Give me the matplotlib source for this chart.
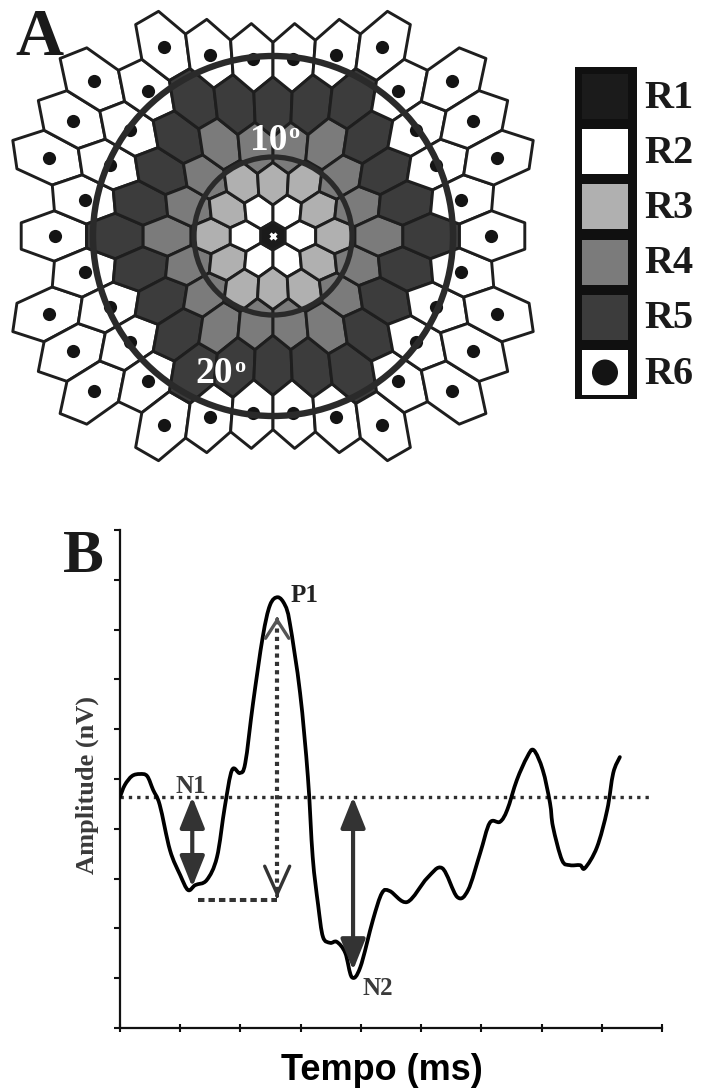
import numpy as np
import matplotlib
matplotlib.use("Agg")
import matplotlib.pyplot as plt
from matplotlib.collections import PolyCollection
from matplotlib.patches import Circle, Rectangle, FancyArrowPatch, PathPatch
from matplotlib.path import Path

# ---------------- data ----------------
ring_labels = ["R1", "R2", "R3", "R4", "R5", "R6"]
ring_colors = ["#1b1b1b", "#ffffff", "#b0b0b0", "#7b7b7b", "#3c3c3c", "#ffffff"]
ring_has_dot = [False, False, False, False, False, True]
circle_labels = ["10", "20"]
circle_radius = [79, 180]          # eccentricity circles (px of panel A)

time_x = [0.00, 0.08, 0.20, 0.33, 0.45, 0.55, 0.66, 0.83, 1.00, 1.13, 1.25, 1.44,
          1.61, 1.74, 1.86, 1.99, 2.08, 2.21, 2.37, 2.49, 2.62, 2.74, 2.82, 2.99,
          3.12, 3.20, 3.29, 3.37, 3.49, 3.60, 3.74, 3.85, 3.99, 4.20, 4.35, 4.48,
          4.77, 5.10, 5.35, 5.60, 5.78, 5.98, 6.14, 6.31, 6.43, 6.59, 6.76, 6.87,
          7.02, 7.14, 7.19, 7.34, 7.47, 7.64, 7.72, 7.92, 8.09, 8.19, 8.30]
amp_y = [4.64, 4.88, 5.06, 5.10, 5.06, 4.78, 4.48, 3.57, 3.07, 2.77, 2.87, 2.97,
         3.43, 4.44, 5.18, 5.12, 5.32, 6.53, 7.85, 8.49, 8.65, 8.49, 8.13, 6.73,
         5.04, 3.43, 2.47, 1.83, 1.71, 1.73, 1.51, 1.02, 1.22, 2.17, 2.71, 2.75,
         2.53, 3.01, 3.21, 2.63, 2.77, 3.51, 4.12, 4.14, 4.38, 4.98, 5.44, 5.58,
         5.18, 4.52, 4.04, 3.37, 3.27, 3.27, 3.21, 3.63, 4.38, 5.12, 5.44]
baseline_amp = 4.64
baseline_end = 8.85
n1_time, n1_amp = 1.20, 2.83
p1_time, p1_amp_tip, p1_amp_bottom = 2.61, 8.25, 2.61
n2_time, n2_amp = 3.87, 1.16
implicit_start, implicit_amp = 1.30, 2.57
peak_labels = ["N1", "P1", "N2"]
peak_label_pos = [(1.18, 4.84), (3.06, 8.69), (4.28, 0.80)]
peak_label_colors = ["#3a3a3a", "#222222", "#3a3a3a"]

SERIF = ["Liberation Serif", "DejaVu Serif"]
SANS = ["Liberation Sans", "DejaVu Sans"]

W, H = 712, 1090
fig = plt.figure(figsize=(W / 100, H / 100), dpi=100)
fig.patch.set_facecolor("white")

# ---------------- panel A ----------------
axA = fig.add_axes([0, 1 - 480 / H, 1, 480 / H])
axA.set_xlim(-273, W - 273)
axA.set_ylim(236 - 480, 236)
axA.axis("off")

s3 = np.sqrt(3.0)
ang = np.deg2rad(90 + 60 * np.arange(6))
unit_hex = np.column_stack([np.cos(ang), np.sin(ang)])


def warp(p):
    r = np.hypot(p[..., 0], p[..., 1])
    return p * (12.6 + 1.45 * r)[..., None]


polys, faces, dots = [], [], []
for q in range(-6, 7):
    for r in range(-6, 7):
        d = max(abs(q), abs(r), abs(q + r))
        c = np.array([s3 * (q + r / 2.0), -1.5 * r])
        dist = np.hypot(*c)
        if d <= 5:
            ring = d
        elif d == 6 and dist < 9.2 and abs(c[1]) < 8.9:
            ring = 5
        else:
            continue
        polys.append(warp(c + unit_hex))
        faces.append(ring_colors[ring])
        if ring_has_dot[ring]:
            dots.append(warp(c))

axA.add_collection(PolyCollection(polys, facecolors=faces, edgecolors="#1e1e1e",
                                  linewidths=2.1, zorder=1))
dots = np.array(dots)
axA.scatter(dots[:, 0], dots[:, 1], s=90, color="#141414", zorder=2, linewidths=0)
axA.plot([0], [0], marker="x", ms=5, mew=2.2, color="white", zorder=3)

for rad, lw in zip(circle_radius, [3.8, 4.6]):
    axA.add_patch(Circle((0, 0), rad, fill=False, lw=lw, ec="#2a2a2a", zorder=4))

# degree labels
axA.text(14, 86, circle_labels[0], ha="right", va="baseline", color="white",
         fontsize=27, fontweight="bold", family=SERIF, zorder=5)
axA.text(15, 113, "o", ha="left", va="top", color="white",
         fontsize=16, fontweight="bold", family=SERIF, zorder=5)
axA.text(-40, -147, circle_labels[1], ha="right", va="baseline", color="white",
         fontsize=27, fontweight="bold", family=SERIF, zorder=5)
axA.text(-39, -121, "o", ha="left", va="top", color="white",
         fontsize=16, fontweight="bold", family=SERIF, zorder=5)

# legend column
axA.add_patch(Rectangle((575 - 273, 236 - 399), 62, 332, fc="#101010", ec="none", zorder=1))
for i, (lab, col) in enumerate(zip(ring_labels, ring_colors)):
    top = 74 + 55.2 * i
    axA.add_patch(Rectangle((582 - 273, 236 - (top + 45)), 46, 45, fc=col, ec="none", zorder=2))
    if ring_has_dot[i]:
        axA.add_patch(Circle((605 - 273, 236 - (top + 22.5)), 13, fc="#141414", ec="none", zorder=3))
    axA.text(644 - 273, 236 - (top + 24), lab, ha="left", va="center", fontsize=29,
             fontweight="bold", family=SERIF, color="#1a1a1a")

fig.text(15 / W, 1 - 55 / H, "A", ha="left", va="baseline", fontsize=48,
         fontweight="bold", family=SERIF, color="#1a1a1a")

# ---------------- panel B ----------------
axB = fig.add_axes([120 / W, 62 / H, 542 / W, 498 / H])
axB.set_xlim(0, 9)
axB.set_ylim(0, 10)
for sp in ["top", "right"]:
    axB.spines[sp].set_visible(False)
for sp in ["left", "bottom"]:
    axB.spines[sp].set_linewidth(1.6)
    axB.spines[sp].set_color("#111111")
axB.set_xticks(np.arange(0, 10))
axB.set_yticks(np.arange(0, 11))
axB.tick_params(axis="x", direction="inout", length=6, width=1.5, color="#111111",
                labelbottom=False)
axB.tick_params(axis="y", direction="out", length=4, width=1.5, color="#111111",
                labelleft=False)

# baseline (dotted)
axB.plot([0, baseline_end], [baseline_amp, baseline_amp], ls=(0, (1, 1.5)), lw=2.4,
         color="#2e2e2e", zorder=2)

# waveform drawn as a smooth Bezier path through the read points
P = np.column_stack([time_x, amp_y])
verts = [P[0]]
codes = [Path.MOVETO]
for i in range(len(P) - 1):
    p0 = P[i - 1] if i > 0 else P[i]
    p1, p2 = P[i], P[i + 1]
    p3 = P[i + 2] if i + 2 < len(P) else P[i + 1]
    verts += [p1 + (p2 - p0) / 6.0, p2 - (p3 - p1) / 6.0, p2]
    codes += [Path.CURVE4] * 3
axB.add_patch(PathPatch(Path(verts, codes), fill=False, ec="black", lw=2.7,
                        joinstyle="round", capstyle="round", zorder=3))

# N1 and N2 amplitude arrows
for t, a in [(n1_time, n1_amp), (n2_time, n2_amp)]:
    axB.add_patch(FancyArrowPatch((t, baseline_amp), (t, a),
                                  arrowstyle="<|-|>,head_length=0.95,head_width=0.38",
                                  mutation_scale=20, lw=3, color="#333333",
                                  shrinkA=0, shrinkB=0, zorder=4))

# P1 amplitude (dotted) arrow
axB.plot([p1_time, p1_time], [p1_amp_bottom + 0.15, p1_amp_tip - 0.1],
         ls=(0, (1, 1)), lw=3.0, color="#333333", zorder=4)
axB.add_patch(FancyArrowPatch((p1_time, p1_amp_tip - 0.05), (p1_time, p1_amp_tip),
                              arrowstyle="->,head_length=0.65,head_width=0.42",
                              mutation_scale=20, lw=2.4, color="#555555",
                              shrinkA=0, shrinkB=0, zorder=5))
axB.add_patch(FancyArrowPatch((p1_time, p1_amp_bottom + 0.05), (p1_time, p1_amp_bottom),
                              arrowstyle="->,head_length=1.0,head_width=0.45",
                              mutation_scale=20, lw=2.4, color="#333333",
                              shrinkA=0, shrinkB=0, zorder=5))
# implicit time horizontal dashed line
axB.plot([implicit_start, p1_time], [implicit_amp, implicit_amp], ls=(0, (1.6, 1.0)),
         lw=2.9, color="#333333", zorder=4)

for lab, (x, y), col in zip(peak_labels, peak_label_pos, peak_label_colors):
    axB.text(x, y, lab, ha="center", va="center", fontsize=18, fontweight="bold",
             family=SERIF, color=col, zorder=6)

fig.text(87 / W, 1 - 785 / H, "Amplitude (nV)", rotation=90, ha="center", va="center",
         fontsize=19, fontweight="bold", family=SERIF, color="#3a3a3a")
fig.text(382 / W, 1 - 1070 / H, "Tempo (ms)", ha="center", va="center",
         fontsize=26, fontweight="bold", family=SANS, color="black")
fig.text(63 / W, 1 - 572 / H, "B", ha="left", va="baseline", fontsize=44,
         fontweight="bold", family=SERIF, color="#1a1a1a")

fig.savefig("out.png", dpi=100, facecolor="white")
